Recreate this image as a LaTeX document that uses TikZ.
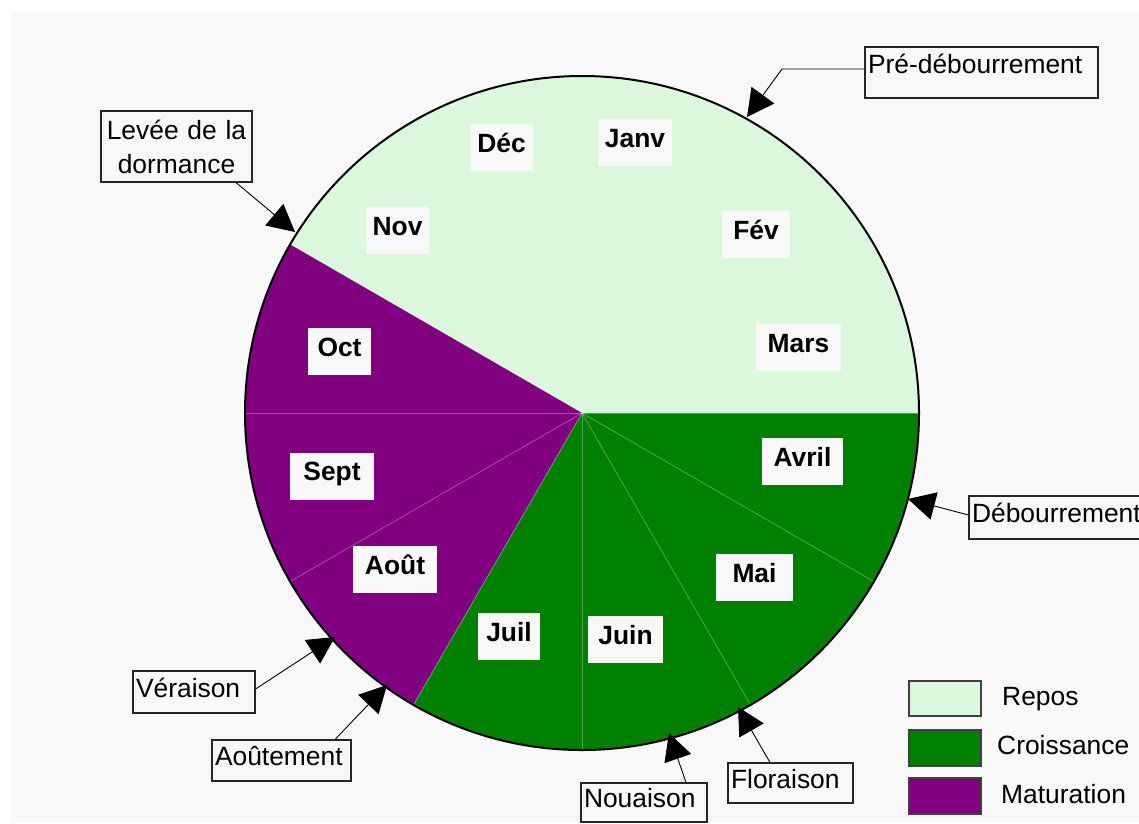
\documentclass[tikz,border=0pt]{standalone}
\usepackage{fontspec}
\setmainfont{Liberation Sans}
\usetikzlibrary{arrows.meta}
\definecolor{bg}{HTML}{F8F8F8}
\definecolor{repos}{HTML}{DCF8DC}
\definecolor{croiss}{HTML}{008000}
\definecolor{matur}{HTML}{800080}
\begin{document}
\begin{tikzpicture}[x=1pt,y=-1pt,
  font=\fontsize{26.4}{34}\selectfont,
  monthbox/.style={fill=bg, inner xsep=0pt, inner ysep=8pt, text height=20pt, text depth=11pt, font=\fontsize{26.4}{34}\selectfont\bfseries},
  callout/.style={draw=black!85, line width=1.1pt, fill=bg, inner xsep=3pt, inner ysep=0pt, align=left},
  oneline/.style={text height=19pt, text depth=9pt},
  pointer/.style={line width=0.9pt, -{Triangle[length=27pt,width=28pt]}},
  legbox/.style={draw=black!75, line width=1.1pt, minimum width=72pt, inner sep=0pt},
  legtext/.style={anchor=base west, inner sep=0pt},
  divider/.style={white, opacity=0.3, line width=0.8pt},
  faintdivider/.style={white, opacity=0.12, line width=0.8pt}]

\useasboundingbox (0,0) rectangle (1139,823);
\fill[white] (0,0) rectangle (1139,823);
\fill[bg] (11,11) rectangle (1139,823);

% pie
\begin{scope}[shift={(582,413)}]
  \fill[repos] (0,0) -- (0:337pt) arc[start angle=0, end angle=150, radius=337pt] -- cycle;
  \fill[matur] (0,0) -- (150:337pt) arc[start angle=150, end angle=240, radius=337pt] -- cycle;
  \fill[croiss] (0,0) -- (240:337pt) arc[start angle=240, end angle=360, radius=337pt] -- cycle;
  \foreach \a in {30,60,...,120} \draw[faintdivider] (0,0) -- (\a:337pt);
  \foreach \a in {180,210,...,330} \draw[divider] (0,0) -- (\a:337pt);
  \draw[divider] (0,0) -- (0:337pt);
  \draw[line width=2pt] (0,0) circle[radius=337pt];
\end{scope}

% month labels
\node[monthbox, minimum width=63pt] (nov) at (397.5,230.5) {Nov};
\node[monthbox, minimum width=63pt] (dec) at (501.5,147.5) {Déc};
\node[monthbox, minimum width=74pt] (jan) at (635,142.5) {Janv};
\node[monthbox, minimum width=68pt] (fev) at (756,234.5) {Fév};
\node[monthbox, minimum width=85pt] (mar) at (798.5,347.5) {Mars};
\node[monthbox, minimum width=81pt] (avr) at (802.5,461.5) {Avril};
\node[monthbox, minimum width=77pt] (mai) at (754.5,577.5) {Mai};
\node[monthbox, minimum width=75pt] (juin) at (625.5,639.5) {Juin};
\node[monthbox, minimum width=62pt] (juil) at (509,636.5) {Juil};
\node[monthbox, minimum width=84pt] (aou) at (395,569.5) {Août};
\node[monthbox, minimum width=84pt] (sep) at (332,476) {Sept};
\node[monthbox, minimum width=63pt] (oct) at (339.5,351.5) {Oct};

% callouts
\node[callout, minimum height=71pt, text width=145pt, align=center] (lev) at (176.5,146.5) {Levée de la\\dormance};
\node[callout, minimum height=51pt, text width=227pt, text height=19pt, text depth=18pt] (pre) at (981.5,72.5) {Pré-débourrement};
\node[callout, oneline, minimum height=43pt, text width=200pt] (deb) at (1072,517.5) {Débourrement};
\node[callout, oneline, minimum height=42pt, text width=116pt] (ver) at (194,692) {Véraison};
\node[callout, oneline, minimum height=41pt, text width=133pt] (aout) at (281.5,760.5) {Aoûtement};
\node[callout, oneline, minimum height=39pt, text width=120pt] (nou) at (644,802.5) {Nouaison};
\node[callout, oneline, minimum height=40pt, text width=119pt] (flo) at (790.5,783) {Floraison};

% arrow tips on the circle
\coordinate (tipLev) at (295,232);
\coordinate (preBend) at (782,69);
\coordinate (tipPre) at (747,117);
\coordinate (tipDeb) at (908,499);
\coordinate (tipVer) at (335,637);
\coordinate (tipAout) at (387,685);
\coordinate (tipNou) at (669,733);
\coordinate (tipFlo) at (738,707);

\draw[pointer] ([xshift=59.5pt]lev.south) -- (tipLev);
\draw[pointer] ([yshift=3.5pt]pre.west) -- (preBend) -- (tipPre);
\draw[pointer] ([yshift=2.5pt]deb.west) -- (tipDeb);
\draw[pointer] ([yshift=3pt]ver.east) -- (tipVer);
\draw[pointer] ([xshift=53.5pt]aout.north) -- (tipAout);
\draw[pointer] ([xshift=42pt]nou.north) -- (tipNou);
\draw[pointer] ([xshift=-20.5pt]flo.north) -- (tipFlo);

% legend
\node[legbox, fill=repos, minimum height=35pt] (lgR) at (945,698.5) {};
\node[legbox, fill=croiss, minimum height=36pt] (lgC) at (945,748) {};
\node[legbox, fill=matur, minimum height=36pt] (lgM) at (945,796) {};
\node[legtext] (ltR) at (1002,705) {Repos};
\node[legtext] (ltC) at (997,754) {Croissance};
\node[legtext] (ltM) at (1001,803) {Maturation};
\end{tikzpicture}
\end{document}
